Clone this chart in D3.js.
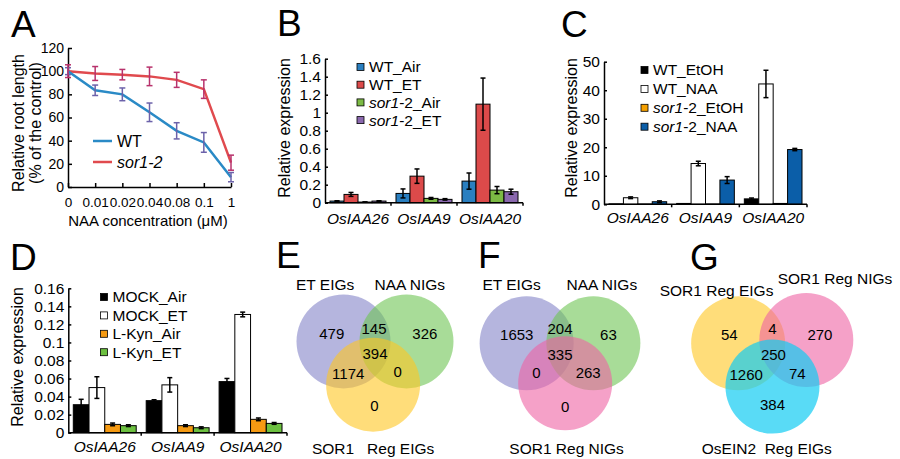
<!DOCTYPE html>
<html>
<head>
<meta charset="utf-8">
<script src="https://cdnjs.cloudflare.com/ajax/libs/d3/7.8.5/d3.min.js"></script>
<style>
    body { margin: 0; background: #fff; }
</style>
</head>
<body>
<svg id="chart" width="900" height="459"></svg>
<script>
var FONT = "Arial, 'Liberation Sans', Helvetica, sans-serif";

// A: root length vs NAA
var concLabels = ['0', '0.01', '0.02', '0.04', '0.08', '0.1', '1'];
var wtRoot = [100, 83.5, 80, 64.5, 48.5, 38.5, 8.5];
var wtRootErr = [3, 4.5, 5.5, 8, 7, 8.5, 4];
var sorRoot = [100, 98, 97, 95.5, 92.5, 84.5, 21];
var sorRootErr = [5.5, 6, 4.5, 8, 6.5, 8, 6.5];
var rootTicks = [0, 20, 40, 60, 80, 100, 120];

// B-D: qPCR
var genes = ['OsIAA26', 'OsIAA9', 'OsIAA20'];

var bSeries = ['WT_Air', 'WT_ET', 'sor1-2_Air', 'sor1-2_ET'];
var bValues = [[0.018, 0.092, 0.007, 0.018], [0.103, 0.295, 0.048, 0.037], [0.24, 1.095, 0.14, 0.122]];
var bErrors = [[0.004, 0.022, 0.002, 0.004], [0.05, 0.08, 0.01, 0.008], [0.09, 0.29, 0.04, 0.028]];
var bTicks = [0, 0.2, 0.4, 0.6, 0.8, 1, 1.2, 1.4, 1.6];

var cSeries = ['WT_EtOH', 'WT_NAA', 'sor1-2_EtOH', 'sor1-2_NAA'];
var cValues = [[0.15, 2.3, 0.1, 0.9], [0.3, 14.3, 0.1, 8.5], [1.9, 42.2, 0.3, 19.2]];
var cErrors = [[0, 0.3, 0, 0.3], [0, 0.8, 0, 1.2], [0.3, 4.8, 0, 0.4]];
var cTicks = [0, 10, 20, 30, 40, 50];

var dSeries = ['MOCK_Air', 'MOCK_ET', 'L-Kyn_Air', 'L-Kyn_ET'];
var dValues = [[0.031, 0.05, 0.0092, 0.0078], [0.0355, 0.053, 0.0078, 0.0055], [0.0566, 0.131, 0.0148, 0.0103]];
var dErrors = [[0.006, 0.012, 0.0015, 0.001], [0.001, 0.008, 0.001, 0.001], [0.0035, 0.0026, 0.0015, 0.001]];
var dTicks = [0, 0.02, 0.04, 0.06, 0.08, 0.1, 0.12, 0.14, 0.16];

// E-G: venn counts, order: A, B, C, AB, AC, BC, ABC
var vennESets = ['ET EIGs', 'NAA NIGs', 'SOR1   Reg EIGs'];
var vennECounts = [479, 326, 0, 145, 1174, 0, 394];
var vennFSets = ['ET EIGs', 'NAA NIGs', 'SOR1 Reg NIGs'];
var vennFCounts = [1653, 63, 0, 204, 0, 263, 335];
var vennGSets = ['SOR1 Reg EIGs', 'SOR1 Reg NIGs', 'OsEIN2  Reg EIGs'];
var vennGCounts = [54, 270, 384, 4, 1260, 74, 250];

var svg = d3.select('#chart').attr('font-family', FONT);

var styleAxis = function(g, size)
{
    g.attr('font-family', FONT).attr('font-size', size);
    g.select('.domain').attr('stroke', '#000').attr('stroke-width', 1.5);
    g.selectAll('.tick line').attr('stroke', '#000').attr('stroke-width', 1.5);
    g.selectAll('.tick text').attr('fill', '#000');
};

// "sor1" is a gene name -> italics
var addLabel = function(text, label, allItalic)
{
    if(label.indexOf('sor1') === 0)
    {
        var rest = allItalic ? 'sor1-2'.length : 4;
        text.append('tspan').attr('font-style', 'italic').text(label.substr(0, rest));
        text.append('tspan').text(label.substr(rest));
    }
    else
    {
        text.text(label);
    }
};

var panelLetter = function(letter, x, y)
{
    svg.append('text').attr('x', x).attr('y', y)
        .attr('font-size', 37).text(letter);
};

var yTitle = function(lines, x, y, size)
{
    lines.forEach(function(line, i)
    {
        svg.append('text')
            .attr('transform', 'translate(' + (x + i * 17) + ',' + y + ') rotate(-90)')
            .attr('text-anchor', 'middle')
            .attr('dy', '0.35em')
            .attr('font-size', size)
            .text(line);
    });
};

/* ---------- A ---------- */
(function()
{
    var x = d3.scalePoint().domain(concLabels).range([68, 231]);
    var y = d3.scaleLinear().domain([0, 120]).range([187, 48]);
    var g = svg.append('g');

    g.append('g').attr('transform', 'translate(68,0)')
        .call(d3.axisLeft(y).tickValues(rootTicks).tickSize(-4).tickSizeOuter(0).tickPadding(4))
        .call(styleAxis, 14);

    g.append('g').attr('transform', 'translate(0,187)')
        .call(d3.axisBottom(x).tickSize(-4).tickSizeOuter(0).tickPadding(10))
        .call(styleAxis, 13.5);

    var line = d3.line()
        .x(function(d, i) { return x(concLabels[i]); })
        .y(function(d) { return y(d); });

    var series = [
        {name: 'WT', values: wtRoot, err: wtRootErr, color: '#2a8ac6', errColor: '#6c62aa'},
        {name: 'sor1-2', values: sorRoot, err: sorRootErr, color: '#e04a4e', errColor: '#b8326c'}
    ];

    series.slice().reverse().forEach(function(s)
    {
        g.append('path').attr('d', line(s.values))
            .attr('fill', 'none').attr('stroke', s.color).attr('stroke-width', 2.5);
    });

    series.forEach(function(s)
    {
        s.values.forEach(function(v, i)
        {
            var cx = x(concLabels[i]);
            var e = g.append('g').attr('stroke', s.errColor).attr('stroke-width', 1.5);
            e.append('line').attr('x1', cx).attr('x2', cx).attr('y1', y(v - s.err[i])).attr('y2', y(v + s.err[i]));
            e.append('line').attr('x1', cx - 3).attr('x2', cx + 3).attr('y1', y(v - s.err[i])).attr('y2', y(v - s.err[i]));
            e.append('line').attr('x1', cx - 3).attr('x2', cx + 3).attr('y1', y(v + s.err[i])).attr('y2', y(v + s.err[i]));
        });
    });

    series.forEach(function(s, i)
    {
        var ly = 141 + i * 21;
        g.append('line').attr('x1', 93).attr('x2', 112).attr('y1', ly).attr('y2', ly)
            .attr('stroke', s.color).attr('stroke-width', 2.5);
        var t = g.append('text').attr('x', 117).attr('y', ly).attr('dy', '0.35em').attr('font-size', 16);
        addLabel(t, s.name, true);
    });

    svg.append('text').attr('x', 148).attr('y', 226).attr('text-anchor', 'middle')
        .attr('font-size', 15).text('NAA concentration (\u03bcM)');
    yTitle(['Relative root length', '(% of the control)'], 18, 123, 16);
    panelLetter('A', 11, 37);
})();

/* ---------- B, C, D ---------- */
var drawBars = function(cfg)
{
    var g = svg.append('g');
    var x0 = d3.scaleBand().domain(genes).range(cfg.xRange);
    var x1 = d3.scaleBand().domain(cfg.series).range([5, x0.bandwidth() - 5]);
    var y = d3.scaleLinear().domain([0, cfg.yTicks[cfg.yTicks.length - 1]]).range(cfg.yRange);
    var base = y(0);

    g.append('g').attr('transform', 'translate(' + cfg.xRange[0] + ',0)')
        .call(d3.axisLeft(y).tickValues(cfg.yTicks).tickSize(-3).tickSizeOuter(0).tickPadding(4)
            .tickFormat(function(d) { return +d.toFixed(2); }))
        .call(styleAxis, 15.5);

    var rows = [];
    genes.forEach(function(gene, i)
    {
        cfg.series.forEach(function(s, j)
        {
            rows.push({gene: gene, series: s, color: cfg.colors[j], v: cfg.values[i][j], e: cfg.errors[i][j]});
        });
    });

    g.selectAll('.bar').data(rows).enter().append('rect')
        .classed('bar', true)
        .attr('x', function(d) { return x0(d.gene) + x1(d.series); })
        .attr('width', x1.bandwidth())
        .attr('y', function(d) { return y(d.v); })
        .attr('height', function(d) { return base - y(d.v); })
        .attr('fill', function(d) { return d.color; })
        .attr('stroke', '#000').attr('stroke-width', 1);

    var err = g.selectAll('.err').data(rows.filter(function(d) { return d.e > 0; })).enter()
        .append('g').classed('err', true)
        .attr('stroke', '#000').attr('stroke-width', 1.5);
    var cx = function(d) { return x0(d.gene) + x1(d.series) + x1.bandwidth() / 2; };
    err.append('line').attr('x1', cx).attr('x2', cx)
        .attr('y1', function(d) { return y(d.v - d.e); })
        .attr('y2', function(d) { return y(d.v + d.e); });
    [-1, 1].forEach(function(sign)
    {
        err.append('line')
            .attr('x1', function(d) { return cx(d) - 2.5; })
            .attr('x2', function(d) { return cx(d) + 2.5; })
            .attr('y1', function(d) { return y(d.v + sign * d.e); })
            .attr('y2', function(d) { return y(d.v + sign * d.e); });
    });

    // x axis with small marks between gene groups
    g.append('line').attr('x1', cfg.xRange[0]).attr('x2', cfg.xRange[1]).attr('y1', base).attr('y2', base)
        .attr('stroke', '#000').attr('stroke-width', 1.5);
    g.selectAll('.gtick').data(genes.slice(1).map(x0).concat(cfg.xRange[1])).enter()
        .append('line').classed('gtick', true)
        .attr('x1', function(d) { return d; }).attr('x2', function(d) { return d; })
        .attr('y1', base).attr('y2', base + 3)
        .attr('stroke', '#000').attr('stroke-width', 1.5);
    g.selectAll('.glabel').data(genes).enter().append('text')
        .attr('x', function(d) { return x0(d) + x0.bandwidth() / 2; })
        .attr('y', base + cfg.labelPad).attr('dy', '0.71em')
        .attr('text-anchor', 'middle').attr('font-style', 'italic').attr('font-size', 15.5)
        .text(function(d) { return d; });

    cfg.series.forEach(function(s, i)
    {
        var ly = cfg.legend[1] + i * cfg.legend[2];
        g.append('rect').attr('x', cfg.legend[0]).attr('y', ly - 3.5).attr('width', 7).attr('height', 7)
            .attr('fill', cfg.colors[i]).attr('stroke', '#000').attr('stroke-width', 0.8);
        var t = g.append('text').attr('x', cfg.legend[0] + 12).attr('y', ly).attr('dy', '0.35em').attr('font-size', 15.5);
        addLabel(t, s, false);
    });

    yTitle(['Relative expression'], cfg.title[0], cfg.title[1], 16);
    panelLetter(cfg.letter, cfg.letterPos[0], cfg.letterPos[1]);
};

drawBars({
    letter: 'B', letterPos: [277, 36],
    series: bSeries, values: bValues, errors: bErrors, yTicks: bTicks,
    colors: ['#2a7fc0', '#dc4a4a', '#7cba44', '#8a68ae'],
    xRange: [325, 523], yRange: [202.7, 58.7], labelPad: 10,
    legend: [357, 67, 17.7], title: [284, 128]
});

drawBars({
    letter: 'C', letterPos: [561, 37],
    series: cSeries, values: cValues, errors: cErrors, yTicks: cTicks,
    colors: ['#000000', '#ffffff', '#f5a000', '#0b5ea8'],
    xRange: [604, 807], yRange: [204.3, 61.7], labelPad: 8,
    legend: [641, 70, 18.9], title: [571, 128]
});

drawBars({
    letter: 'D', letterPos: [10, 270],
    series: dSeries, values: dValues, errors: dErrors, yTicks: dTicks,
    colors: ['#000000', '#ffffff', '#f59a12', '#6cc040'],
    xRange: [68.3, 287], yRange: [432.7, 288.3], labelPad: 8,
    legend: [100.5, 297, 18.4], title: [17, 357]
});

/* ---------- E, F, G ---------- */
var drawVenn = function(cfg)
{
    var g = svg.append('g');
    var sx = d3.scaleLinear().domain([-1, 1]).range([cfg.cx - cfg.r, cfg.cx + cfg.r]);
    var sy = d3.scaleLinear().domain([-1, 1]).range([cfg.cy - cfg.r, cfg.cy + cfg.r]);

    g.selectAll('circle').data(cfg.circles).enter().append('circle')
        .attr('cx', function(d) { return sx(d[0]); })
        .attr('cy', function(d) { return sy(d[1]); })
        .attr('r', cfg.r)
        .attr('fill', function(d, i) { return cfg.colors[i]; })
        .attr('fill-opacity', function(d, i) { return cfg.opacity[i]; });

    g.selectAll('.count').data(cfg.counts).enter().append('text')
        .attr('x', function(d, i) { return sx(cfg.regions[i][0]); })
        .attr('y', function(d, i) { return sy(cfg.regions[i][1]); })
        .attr('dy', '0.35em').attr('text-anchor', 'middle').attr('font-size', 15)
        .text(function(d) { return d; });

    g.selectAll('.setname').data(cfg.sets).enter().append('text')
        .attr('x', function(d, i) { return sx(cfg.names[i][0]); })
        .attr('y', function(d, i) { return sy(cfg.names[i][1]); })
        .attr('dy', '0.35em').attr('text-anchor', 'middle').attr('font-size', 15.5)
        .attr('xml:space', 'preserve').style('white-space', 'pre')
        .text(function(d) { return d; });

    panelLetter(cfg.letter, cfg.letterPos[0], cfg.letterPos[1]);
};

var PURPLE = '#8484c8', GREEN = '#6ec553', YELLOW = '#ffc722', PINK = '#ee62a4', CYAN = '#12ccf2';

drawVenn({
    letter: 'E', letterPos: [276, 268],
    cx: 375, cy: 356, r: 47,
    sets: vennESets, counts: vennECounts,
    colors: [PURPLE, GREEN, YELLOW], opacity: [0.6, 0.6, 0.6],
    circles: [[-0.67, -0.31], [0.67, -0.31], [-0.04, 0.61]],
    regions: [[-0.92, -0.48], [1.06, -0.48], [-0.01, 1.06], [-0.02, -0.57], [-0.57, 0.37], [0.48, 0.33], [0, -0.04]],
    names: [[-1.06, -1.51], [0.74, -1.51], [-0.04, 1.96]]
});

drawVenn({
    letter: 'F', letterPos: [478, 268],
    cx: 560, cy: 356, r: 47,
    sets: vennFSets, counts: vennFCounts,
    colors: [PURPLE, GREEN, PINK], opacity: [0.6, 0.6, 0.6],
    circles: [[-0.71, -0.27], [0.71, -0.27], [0.11, 0.58]],
    regions: [[-0.92, -0.46], [1.03, -0.46], [0.11, 1.08], [0, -0.57], [-0.5, 0.36], [0.6, 0.36], [0, -0.02]],
    names: [[-1.03, -1.51], [0.89, -1.51], [0.14, 1.96]]
});

drawVenn({
    letter: 'G', letterPos: [690, 270],
    cx: 772, cy: 356, r: 47,
    sets: vennGSets, counts: vennGCounts,
    colors: [YELLOW, PINK, CYAN], opacity: [0.6, 0.6, 0.7],
    circles: [[-0.72, -0.27], [0.73, -0.34], [0.01, 0.65]],
    regions: [[-0.91, -0.45], [1.02, -0.45], [0.01, 1.04], [0.01, -0.57], [-0.55, 0.4], [0.54, 0.37], [0.03, -0.02]],
    names: [[-1.18, -1.4], [1.34, -1.65], [-0.11, 1.96]]
});
</script>
</body>
</html>
